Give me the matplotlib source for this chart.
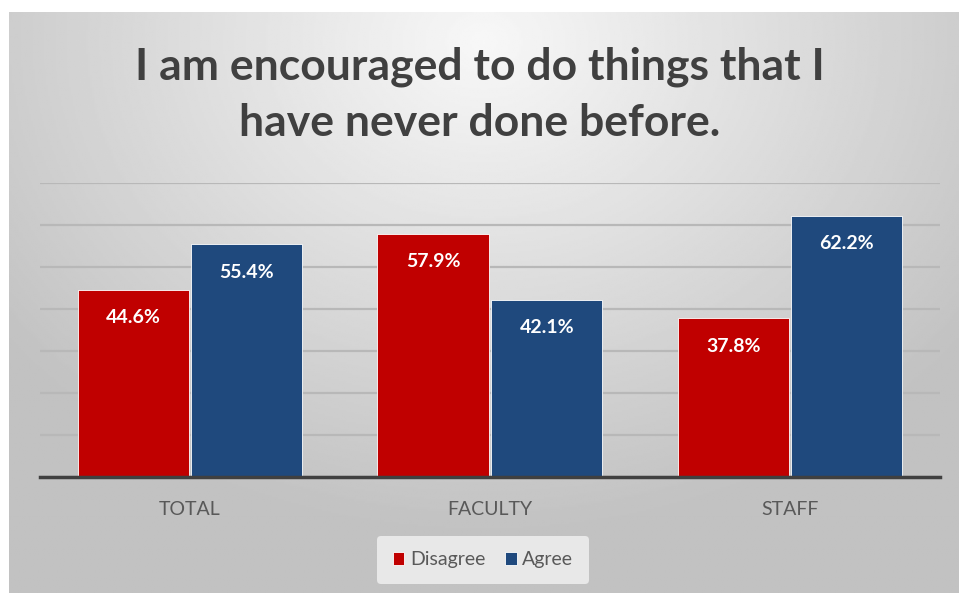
import numpy as np
import matplotlib
matplotlib.use('Agg')
import matplotlib.pyplot as plt

categories = ['TOTAL', 'FACULTY', 'STAFF']
disagree = [44.6, 57.9, 37.8]
agree = [55.4, 42.1, 62.2]
title = 'I am encouraged to do things that I\nhave never done before.'

RED, BLUE = '#C00000', '#1F497D'
plt.rcParams['font.family'] = ['Lato', 'DejaVu Sans']

fig = plt.figure(figsize=(9.59, 5.93), dpi=100)
fig.patch.set_facecolor('white')

# gradient background panel
bg = fig.add_axes([9/959, 0, 950/959, 581/593], zorder=0)
yy, xx = np.mgrid[0:1:300j, 0:1:500j]
r = np.sqrt(((xx - 0.5) * 1.0) ** 2 + ((yy - 0.05) * 0.75) ** 2)
g = np.clip(0.97 - 0.33 * r, 0.76, 0.97)
bg.imshow(g, cmap='gray', vmin=0, vmax=1, aspect='auto', extent=[0, 1, 1, 0])
bg.axis('off')

ax = fig.add_axes([40/959, 1 - 477/593, 900/959, (477-183)/593], zorder=1)
ax.patch.set_alpha(0)
x = np.arange(len(categories))
w = 0.372
b1 = ax.bar(x - w/2 - 0.003, disagree, w, color=RED, edgecolor='white', lw=0.6, label='Disagree', zorder=3)
b2 = ax.bar(x + w/2 + 0.003, agree, w, color=BLUE, edgecolor='white', lw=0.6, label='Agree', zorder=3)
for bars, vals in ((b1, disagree), (b2, agree)):
    for b, v in zip(bars, vals):
        ax.annotate(f'{v:.1f}%', (b.get_x() + b.get_width()/2, v), xytext=(0, -20),
                    textcoords='offset points', ha='center', va='center',
                    color='white', fontsize=14, fontweight='bold', zorder=4)

ax.set_xlim(-0.5, 2.5)
ax.set_ylim(0, 70)
ax.set_yticks(np.arange(0, 71, 10))
ax.yaxis.grid(True, color='#b8b8b8', lw=1.6, zorder=0)
ax.tick_params(axis='y', left=False, labelleft=False)
ax.tick_params(axis='x', length=0, pad=17, labelsize=14, labelcolor='#595959')
ax.set_xticks(x)
ax.set_xticklabels(categories)
for s in ['top', 'right', 'left']:
    ax.spines[s].set_visible(False)
ax.spines['bottom'].set_color('#404040')
ax.spines['bottom'].set_linewidth(2.5)
ax.spines['bottom'].set_zorder(5)

fig.text(0.5, 1 - 95/593, title, ha='center', va='center', fontsize=32,
         fontweight='bold', color='#404040', linespacing=1.5)

leg = ax.legend(loc='center', bbox_to_anchor=(483/959, 1 - 560/593),
                bbox_transform=fig.transFigure, ncol=2, frameon=True,
                fontsize=14, handlelength=0.6, handleheight=0.6,
                handletextpad=0.3, columnspacing=1.0, borderpad=0.8)
leg.get_frame().set_facecolor('#e8e8e8')
leg.get_frame().set_edgecolor('none')
leg.get_frame().set_alpha(1)
for t in leg.get_texts():
    t.set_color('#595959')

fig.savefig('out.png', dpi=100)
